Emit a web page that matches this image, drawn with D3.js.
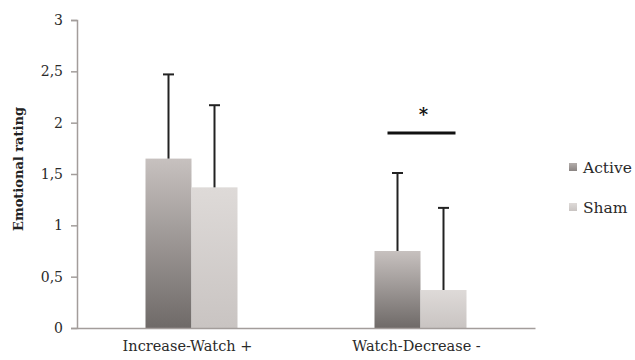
<!DOCTYPE html>
<html><head><meta charset="utf-8">
<script src="https://cdn.jsdelivr.net/npm/d3@7"></script>
<style>body{margin:0;background:#fff}</style>
</head><body>
<script>
const categories = ["Increase-Watch +", "Watch-Decrease -"];
const seriesNames = ["Active", "Sham"];
const activeMeans = [1.65, 0.75];
const shamMeans = [1.37, 0.37];
const activeErr = [0.82, 0.76];
const shamErr = [0.80, 0.80];
const yTicks = [0, 0.5, 1, 1.5, 2, 2.5, 3];
const yTickLabels = ["0", "0,5", "1", "1,5", "2", "2,5", "3"];

const W = 635, H = 360;
const svg = d3.select("body").append("svg").attr("width", W).attr("height", H);
const font = "'DejaVu Serif', 'Liberation Serif', serif";

const x0 = d3.scaleBand().domain(categories).range([77, 535]).paddingInner(0).paddingOuter(0);
const x1 = d3.scaleBand().domain(seriesNames).range([0, 92]);
const y = d3.scaleLinear().domain([0, 3]).range([328, 20]);

const defs = svg.append("defs");
const grads = [
  {id: "gA", top: "#c7c1bf", bot: "#6f6a68"},
  {id: "gS", top: "#dedad8", bot: "#c9c4c2"},
  {id: "lA", top: "#b3adab", bot: "#8a8482"},
  {id: "lS", top: "#dedad8", bot: "#c9c4c2"}
];
grads.forEach(g => {
  const lg = defs.append("linearGradient").attr("id", g.id).attr("x1", 0).attr("y1", 0).attr("x2", 0).attr("y2", 1);
  lg.append("stop").attr("offset", "0%").attr("stop-color", g.top);
  lg.append("stop").attr("offset", "100%").attr("stop-color", g.bot);
});

const data = categories.map((c, i) => ({
  cat: c,
  vals: [
    {s: "Active", v: activeMeans[i], e: activeErr[i], fill: "url(#gA)"},
    {s: "Sham", v: shamMeans[i], e: shamErr[i], fill: "url(#gS)"}
  ]
}));

// y axis
const yAxis = d3.axisLeft(y).tickValues(yTicks).tickFormat((d, i) => yTickLabels[i]).tickSize(6).tickPadding(8);
const gy = svg.append("g").attr("transform", "translate(77,0)").call(yAxis);
gy.select(".domain").attr("stroke", "#a39d9b").attr("stroke-width", 1.5);
gy.selectAll(".tick line").attr("stroke", "#a39d9b").attr("stroke-width", 1.5);
gy.selectAll(".tick text").attr("font-family", font).attr("font-size", 14).attr("fill", "#2a2a2a");

// bars
const groups = svg.selectAll("g.grp").data(data).join("g")
  .attr("transform", d => `translate(${x0(d.cat) + x0.bandwidth() / 2 - 46},0)`);
groups.selectAll("rect").data(d => d.vals).join("rect")
  .attr("x", d => x1(d.s))
  .attr("width", x1.bandwidth())
  .attr("y", d => y(d.v))
  .attr("height", d => y(0) - y(d.v))
  .attr("fill", d => d.fill);

// error bars
groups.selectAll("g.err").data(d => d.vals).join("g").each(function(d) {
  const cx = x1(d.s) + x1.bandwidth() / 2;
  const g = d3.select(this);
  g.append("line").attr("x1", cx).attr("x2", cx).attr("y1", y(d.v)).attr("y2", y(d.v + d.e))
    .attr("stroke", "#222").attr("stroke-width", 2);
  g.append("line").attr("x1", cx - 5.5).attr("x2", cx + 5.5).attr("y1", y(d.v + d.e)).attr("y2", y(d.v + d.e))
    .attr("stroke", "#222").attr("stroke-width", 2);
});

// x axis
const xAxis = d3.axisBottom(x0).tickSize(0).tickPadding(13);
const gx = svg.append("g").attr("transform", "translate(0,328)").call(xAxis);
gx.select(".domain").attr("stroke", "#a39d9b").attr("stroke-width", 1.5);
gx.selectAll(".tick text").attr("font-family", font).attr("font-size", 14.5).attr("fill", "#2a2a2a")
  .attr("dx", "-4");

// significance
const c2 = x0(categories[1]) + x0.bandwidth() / 2;
svg.append("line").attr("x1", c2 - 33).attr("x2", c2 + 35).attr("y1", y(1.9)).attr("y2", y(1.9))
  .attr("stroke", "#111").attr("stroke-width", 3);
svg.append("text").attr("x", c2 + 3).attr("y", y(2.02)).attr("text-anchor", "middle")
  .attr("font-family", font).attr("font-weight", "bold").attr("font-size", 18).attr("fill", "#111").text("*");

// y label
svg.append("text").attr("transform", "translate(23,169) rotate(-90)").attr("text-anchor", "middle")
  .attr("font-family", font).attr("font-weight", "bold").attr("font-size", 13).attr("fill", "#222")
  .text("Emotional rating");

// legend
const leg = svg.selectAll("g.leg").data(seriesNames).join("g")
  .attr("transform", (d, i) => `translate(569,${163 + i * 40})`);
leg.append("rect").attr("width", 8).attr("height", 8).attr("fill", (d, i) => i === 0 ? "url(#lA)" : "url(#lS)");
leg.append("text").attr("x", 14).attr("y", 9.5).attr("font-family", font).attr("font-size", 15.5)
  .attr("fill", "#2a2a2a").text(d => d);
</script>
</body></html>
